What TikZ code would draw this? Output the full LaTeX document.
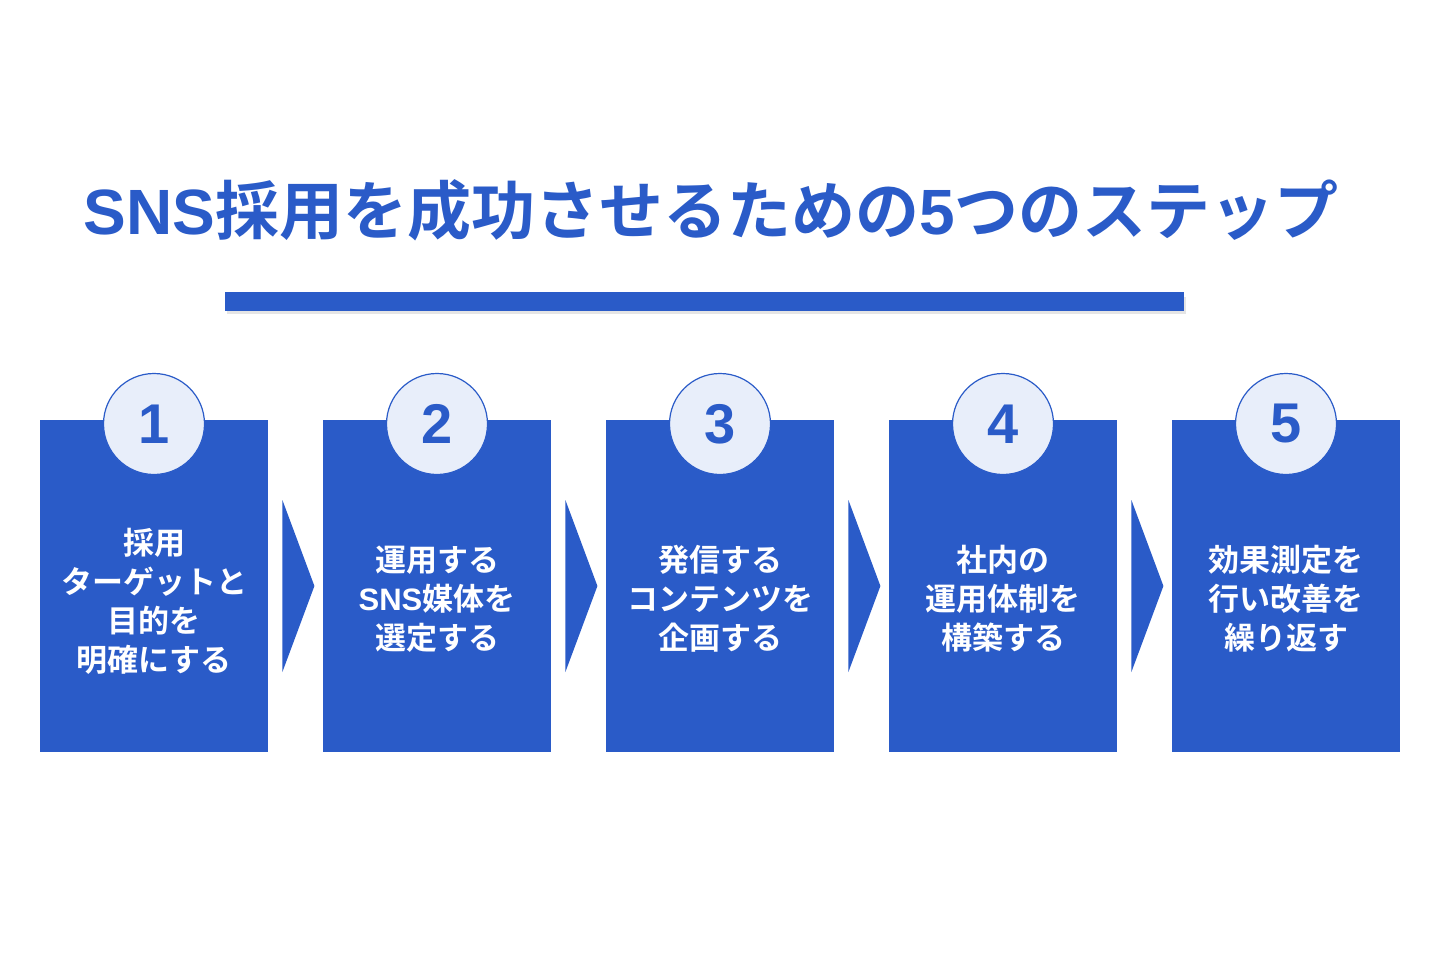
\documentclass[tikz,border=0pt]{standalone}
\usepackage{fontspec}
\setmainfont{Liberation Sans}
\newfontfamily\cjk{Noto Sans CJK JP}[BoldFont={* Bold}]
\newfontfamily\lat{Liberation Sans}
\definecolor{mainblue}{HTML}{2A5BC8}
\definecolor{circfill}{HTML}{E8EEFA}
\begin{document}
\begin{tikzpicture}[x=1pt,y=-1pt,
  stepbox/.style={fill=mainblue,draw=none,minimum width=228pt,minimum height=332pt,inner sep=0pt,anchor=north west},
  numcirc/.style={circle,fill=circfill,draw=mainblue,line width=1.2pt,minimum size=101pt,inner sep=0pt,text=mainblue,font=\lat\bfseries\fontsize{56}{56}\selectfont},
  steptext/.style={text=white,align=center,font=\cjk\bfseries\fontsize{31}{39}\selectfont},
  chev/.style={fill=mainblue,draw=none}]
\useasboundingbox (0,0) rectangle (1440,960);
\fill[white] (0,0) rectangle (1440,960);
% title
\node[text=mainblue,font=\bfseries\fontsize{64}{64}\selectfont,anchor=center] (title) at (711,210)
  {{\lat SNS}{\cjk 採用を成功させるための}{\lat 5}{\cjk つのステップ}};
% bar with shadow
\fill[black!20,opacity=0.5] (227,297) rectangle (1186,314);
\fill[mainblue] (225,292) rectangle (1184,311);
% boxes
\foreach \i/\x in {1/40,2/323,3/606,4/889,5/1172}{
  \node[stepbox] (box\i) at (\x,420) {};
}
\foreach \i/\x in {1/154,2/437,3/720,4/1003,5/1286}{
  \node[numcirc] (c\i) at (\x,424) {\i};
}
\node[steptext] (t1) at (154,601) {採用\\ターゲットと\\目的を\\明確にする};
\node[steptext] (t2) at (437,599) {運用する\\{\lat\bfseries SNS}媒体を\\選定する};
\node[steptext] (t3) at (720,599) {発信する\\コンテンツを\\企画する};
\node[steptext] (t4) at (1003,599) {社内の\\運用体制を\\構築する};
\node[steptext] (t5) at (1286,599) {効果測定を\\行い改善を\\繰り返す};
% chevrons
\foreach \i in {1,2,3,4}{
  \fill[chev] ([shift={(14,80)}]box\i.north east) -- ([shift={(46,166)}]box\i.north east) -- ([shift={(14,252)}]box\i.north east) -- cycle;
}
\end{tikzpicture}
\end{document}
